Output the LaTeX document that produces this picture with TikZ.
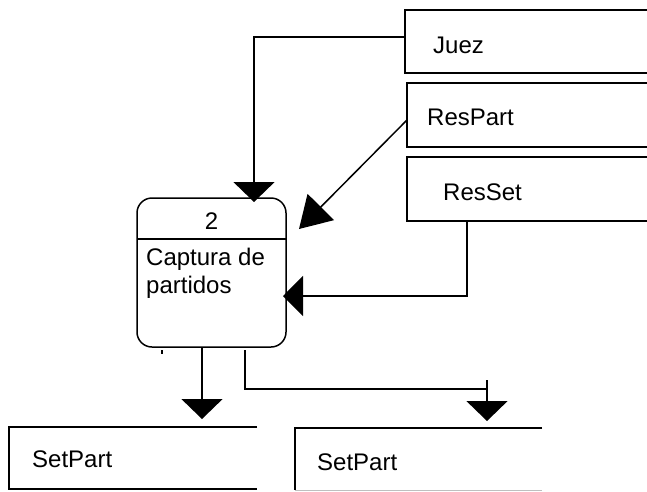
\documentclass[tikz,border=0pt]{standalone}
\usepackage{fontspec}
\setmainfont{Liberation Sans}
\usetikzlibrary{arrows.meta,calc}
\begin{document}
\begin{tikzpicture}[x=1pt,y=-1pt,
  line/.style={line width=1.5pt, draw=black},
  storebox/.style={inner sep=0pt, outer sep=0pt, anchor=north west},
  lbl/.style={inner sep=0pt, anchor=base west, font=\fontsize{24}{28}\selectfont},
  bigtip/.style={-{Triangle[length=20pt,width=41pt]}}]
\useasboundingbox (0,0) rectangle (647,491);

% data stores (open on the right)
\node[storebox, minimum width=242pt, minimum height=63pt] (juez) at (405,10) {};
\draw[line] (juez.north east) -- (juez.north west) -- (juez.south west) -- (juez.south east);
\node[lbl] (juezt) at (433,53) {Juez};

\node[storebox, minimum width=240pt, minimum height=64pt] (resp) at (407,83) {};
\draw[line] (resp.north east) -- (resp.north west) -- (resp.south west) -- (resp.south east);
\node[lbl] (respt) at (427,125) {ResPart};

\node[storebox, minimum width=240pt, minimum height=64pt] (ress) at (407,157) {};
\draw[line] (ress.north east) -- (ress.north west) -- (ress.south west) -- (ress.south east);
\node[lbl] (resst) at (443,200) {ResSet};

\node[storebox, minimum width=248pt, minimum height=62pt] (sp1) at (9,427) {};
\draw[line] (sp1.north east) -- (sp1.north west) -- (sp1.south west) -- (sp1.south east);
\node[lbl] (sp1t) at (32,467) {SetPart};

\node[storebox, minimum width=247pt, minimum height=62pt] (sp2) at (295,428) {};
\draw[line] (sp2.north east) -- (sp2.north west) -- (sp2.south west);
\draw[line width=1pt, gray!50] (sp2.south west) -- (sp2.south east);
\node[lbl] (sp2t) at (317,470) {SetPart};

% process
\node[line, rounded corners=15pt, minimum width=149pt, minimum height=149pt,
      inner sep=0pt, outer sep=0pt, anchor=north west] (proc) at (137,198) {};
\draw[line] ($(proc.north west)+(0,41)$) -- ($(proc.north east)+(0,41)$);
\node[lbl, anchor=base] (pnum) at (211.5,229) {2};
\node[lbl] (pname1) at (146,265) {Captura de};
\node[lbl] (pname2) at (146,293) {partidos};

% connectors
\draw[line, bigtip, shorten >=-4pt] ([yshift=4.5pt]juez.west) -| ([xshift=42.5pt]proc.north);
\coordinate (rptip) at (299,229);
\draw[line, -{Triangle[length=31pt,width=37pt]}] ([yshift=-5pt]resp.west) -- (rptip);
\draw[line, -{Triangle[length=20pt,width=40pt]}, shorten >=-3pt] ([xshift=-60pt]ress.south) |- ([yshift=-23.5pt]proc.east);
\draw[line, bigtip] ([xshift=-9.5pt]proc.south) -- ([xshift=69pt,yshift=8pt]sp1.north);
\coordinate (jn) at (487,389);
\draw[line] ([xshift=33.5pt,yshift=-3pt]proc.south) |- (jn);
\draw[line, bigtip] ([yshift=9pt]jn) -- ([xshift=68.5pt,yshift=7pt]sp2.north);
\draw[line] (162,350) -- (162,354);
\end{tikzpicture}
\end{document}
